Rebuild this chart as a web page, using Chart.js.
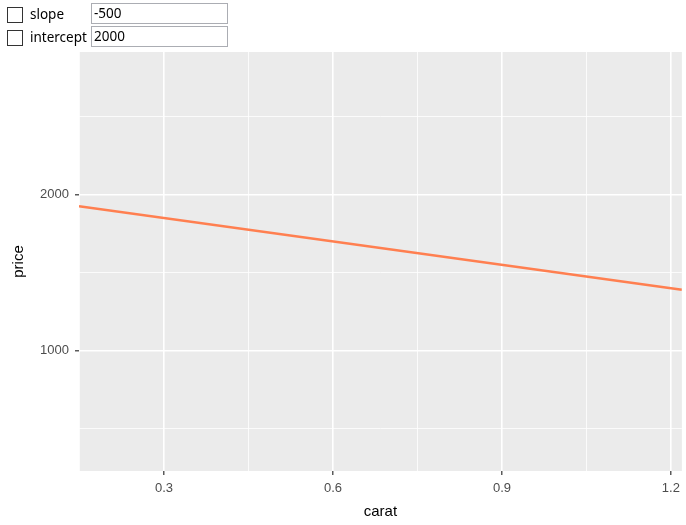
<!DOCTYPE html>
<html>
<head>
<meta charset="utf-8">
<script src="https://cdn.jsdelivr.net/npm/chart.js@4.4.0/dist/chart.umd.min.js"></script>
<style>
  body { margin: 0; background: #fff; font-family: "Liberation Sans", Arial, sans-serif; }
  #wrap { position: relative; width: 686px; height: 525px; }
  #chart { position: absolute; left: 0; top: 0; }
  .box { position: absolute; width: 14px; height: 14px; border: 1px solid #333; background: #fff; }
  .lbl { position: absolute; font-size: 13.5px; color: #000; font-family: "Noto Sans", "Liberation Sans", sans-serif; }
  .inp { position: absolute; width: 133px; height: 19px; border: 1px solid #abadb3; background: #fff;
         font-size: 13.5px; line-height: 19px; padding-left: 2px; box-sizing: content-box; font-family: "Noto Sans", "Liberation Sans", sans-serif; }
</style>
</head>
<body>
<div id="wrap">
  <canvas id="chart" width="686" height="525"></canvas>
  <div class="box" style="left:7px;top:7px"></div>
  <div class="lbl" style="left:30px;top:5px">slope</div>
  <div class="inp" style="left:91px;top:3px">-500</div>
  <div class="box" style="left:7px;top:30px"></div>
  <div class="lbl" style="left:30px;top:28px">intercept</div>
  <div class="inp" style="left:91px;top:26px">2000</div>
</div>
<script>
const lineX = [0.149, 1.2195]
const lineY = [1925.5, 1390]
const xMajor = [0.3, 0.6, 0.9, 1.2]
const xMinor = [0.15, 0.45, 0.75, 1.05]
const yMajor = [1000, 2000]
const yMinor = [500, 1500, 2500]

let isMajor = (list, v) => list.some(m => Math.abs(m - v) < 1e-6)

let panel_bg = {
  id: 'panel_bg',
  beforeDraw(chart) {
    let { ctx, chartArea: a } = chart
    ctx.save()
    ctx.fillStyle = '#EBEBEB'
    ctx.fillRect(a.left, a.top, a.right - a.left, a.bottom - a.top)
    ctx.restore()
  }
}

let tickFont = { family: '"Liberation Sans", Arial, sans-serif', size: 13 }
let titleFont = { family: '"Liberation Sans", Arial, sans-serif', size: 15 }

new Chart(document.getElementById('chart'), {
  type: 'scatter',
  data: {
    datasets: [{
      data: lineX.map((x, i) => ({ x: x, y: lineY[i] })),
      showLine: true,
      borderColor: '#FF7F50',
      borderWidth: 2.5,
      pointRadius: 0
    }]
  },
  options: {
    responsive: false,
    animation: false,
    layout: { padding: { top: 52, right: 4, left: 0, bottom: 0 } },
    plugins: { legend: { display: false }, tooltip: { enabled: false } },
    scales: {
      x: {
        type: 'linear',
        min: 0.149,
        max: 1.2195,
        afterBuildTicks: s => { s.ticks = xMinor.concat(xMajor).sort((a, b) => a - b).map(v => ({ value: v })) },
        afterFit: s => { s.height = 54 },
        border: { display: false },
        grid: {
          color: '#FFFFFF',
          lineWidth: c => isMajor(xMajor, c.tick.value) ? 1.6 : 0.8,
          tickColor: c => isMajor(xMajor, c.tick.value) ? '#333333' : 'rgba(0,0,0,0)',
          tickLength: 4,
          tickWidth: 1.2,
          drawTicks: true
        },
        ticks: {
          autoSkip: false,
          maxRotation: 0,
          color: '#4D4D4D',
          font: tickFont,
          padding: 6,
          callback: v => isMajor(xMajor, v) ? v.toFixed(1) : ''
        },
        title: { display: true, text: 'carat', color: '#000', font: titleFont, padding: { bottom: 4 } }
      },
      y: {
        type: 'linear',
        min: 226,
        max: 2916,
        afterBuildTicks: s => { s.ticks = yMinor.concat(yMajor).sort((a, b) => a - b).map(v => ({ value: v })) },
        afterFit: s => { s.width = 79 },
        border: { display: false },
        grid: {
          color: '#FFFFFF',
          lineWidth: c => isMajor(yMajor, c.tick.value) ? 1.6 : 0.8,
          tickColor: c => isMajor(yMajor, c.tick.value) ? '#333333' : 'rgba(0,0,0,0)',
          tickLength: 4,
          tickWidth: 1.2,
          drawTicks: true
        },
        ticks: {
          autoSkip: false,
          color: '#4D4D4D',
          font: tickFont,
          padding: 6,
          callback: v => isMajor(yMajor, v) ? String(v) : ''
        },
        title: { display: true, text: 'price', color: '#000', font: titleFont, padding: { top: 10 } }
      }
    }
  },
  plugins: [panel_bg]
})
</script>
</body>
</html>
